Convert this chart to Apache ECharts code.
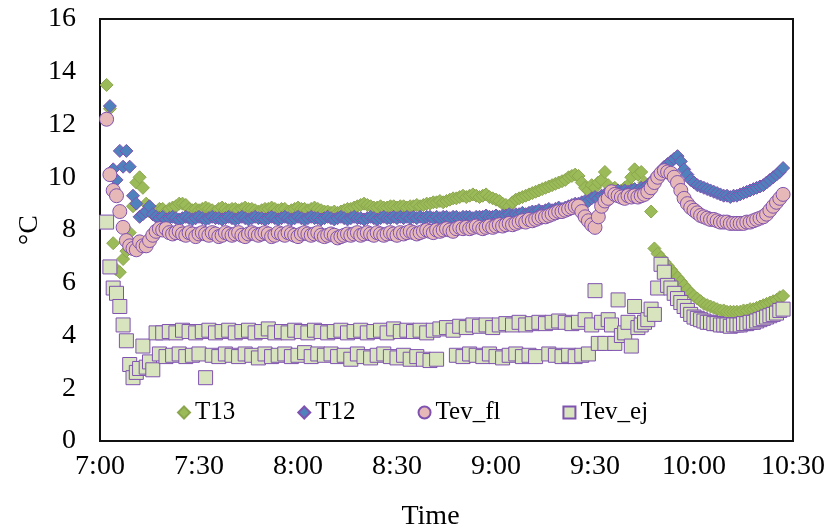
<!DOCTYPE html>
<html>
<head>
<meta charset="utf-8">
<script src="https://cdn.jsdelivr.net/npm/echarts@6/dist/echarts.min.js"></script>
<style>
html,body{margin:0;padding:0;background:#fff;}
#chart{width:833px;height:529px;}
</style>
</head>
<body>
<div id="chart"></div>
<script>
// Sample times: one reading per minute, first reading at 7:02 (minutes after 7:00)
const firstMinute = 2;
const tickLabels = ['7:00','7:30','8:00','8:30','9:00','9:30','10:00','10:30'];
const seriesNames = ['T13','T12','Tev_fl','Tev_ej'];

const T13 = [
13.5,12.6,7.5,6.5,6.4,6.9,7.2,7.9,8.9,9.8,
10.0,9.6,9.0,8.7,8.6,8.7,8.8,8.8,8.7,8.8,
8.85,8.9,9.0,9.0,8.95,8.8,8.75,8.8,8.75,8.8,
8.85,8.8,8.75,8.7,8.8,8.85,8.8,8.75,8.8,8.8,
8.75,8.8,8.85,8.8,8.8,8.75,8.7,8.75,8.8,8.8,
8.85,8.8,8.75,8.8,8.8,8.7,8.75,8.8,8.85,8.8,
8.8,8.75,8.8,8.85,8.8,8.75,8.7,8.7,8.65,8.7,
8.65,8.7,8.75,8.8,8.8,8.85,8.9,8.95,9.0,8.95,
8.9,8.85,8.85,8.9,8.85,8.85,8.9,8.9,8.85,8.9,
8.9,8.85,8.9,8.9,8.95,8.9,8.95,9.0,9.0,9.05,
9.05,9.1,9.05,9.1,9.15,9.2,9.2,9.25,9.3,9.25,
9.3,9.35,9.3,9.25,9.3,9.35,9.25,9.2,9.15,9.1,
9.0,8.95,8.9,9.05,9.15,9.2,9.25,9.3,9.35,9.4,
9.45,9.5,9.55,9.6,9.65,9.7,9.75,9.8,9.85,9.9,
10.0,10.05,10.1,10.05,9.8,9.6,9.5,9.7,9.6,9.8,
9.9,10.2,9.7,9.5,9.6,9.4,9.5,9.6,9.7,10.0,
10.3,10.1,10.2,9.8,9.4,8.7,7.3,7.1,6.95,6.8,
6.65,6.5,6.35,6.2,6.05,5.9,5.75,5.6,5.5,5.4,
5.3,5.2,5.15,5.1,5.05,5.0,4.95,4.95,4.9,4.9,
4.9,4.9,4.9,4.95,4.95,5.0,5.0,5.05,5.1,5.15,
5.2,5.25,5.3,5.35,5.45,5.5
];

const T12 = [
null,12.7,10.3,9.9,11.0,10.4,11.0,10.4,9.3,9.0,
8.5,8.6,8.7,8.9,8.6,8.5,8.45,8.5,8.4,8.45,
8.5,8.45,8.4,8.45,8.5,8.45,8.4,8.45,8.5,8.45,
8.4,8.45,8.5,8.45,8.45,8.4,8.45,8.5,8.45,8.4,
8.45,8.5,8.45,8.4,8.45,8.5,8.45,8.45,8.4,8.45,
8.5,8.45,8.4,8.45,8.5,8.45,8.4,8.45,8.5,8.45,
8.4,8.45,8.5,8.45,8.45,8.4,8.45,8.5,8.45,8.4,
8.45,8.5,8.45,8.4,8.45,8.5,8.45,8.45,8.4,8.45,
8.5,8.45,8.4,8.45,8.5,8.45,8.45,8.5,8.45,8.5,
8.45,8.5,8.45,8.5,8.45,8.5,8.45,8.5,8.5,8.45,
8.5,8.45,8.5,8.5,8.45,8.5,8.5,8.45,8.5,8.5,
8.5,8.45,8.5,8.5,8.5,8.55,8.5,8.5,8.55,8.5,
8.55,8.55,8.6,8.55,8.6,8.6,8.65,8.6,8.65,8.7,
8.7,8.75,8.7,8.75,8.8,8.75,8.8,8.85,8.8,8.85,
8.9,8.95,9.0,9.0,9.05,9.1,9.1,9.2,9.25,9.2,
9.3,9.35,9.4,9.4,9.45,9.5,9.45,9.5,9.45,9.5,
9.55,9.5,9.6,9.6,9.7,9.8,9.95,10.1,10.25,10.4,
10.5,10.6,10.7,10.8,10.6,10.3,10.1,9.9,9.8,9.7,
9.65,9.6,9.55,9.5,9.45,9.4,9.35,9.3,9.3,9.25,
9.3,9.3,9.35,9.4,9.45,9.5,9.55,9.6,9.65,9.7,
9.8,9.9,10.0,10.1,10.2,10.35
];

const Tev_fl = [
12.2,10.1,9.5,9.3,8.7,8.1,7.6,7.4,7.3,7.25,
7.55,7.4,7.4,7.6,7.8,7.95,8.05,8.0,8.05,7.9,
7.85,7.9,7.95,7.85,7.8,7.9,7.85,7.75,7.85,7.9,
7.85,7.8,7.9,7.85,7.75,7.8,7.9,7.85,7.8,7.85,
7.9,7.8,7.75,7.85,7.9,7.85,7.8,7.85,7.9,7.85,
7.75,7.8,7.9,7.85,7.8,7.9,7.85,7.8,7.75,7.85,
7.9,7.85,7.8,7.85,7.9,7.8,7.75,7.8,7.85,7.8,
7.7,7.75,7.8,7.85,7.8,7.85,7.9,7.8,7.85,7.9,
7.85,7.8,7.9,7.85,7.8,7.85,7.9,7.85,7.8,7.9,
7.85,7.9,7.95,7.9,7.85,7.9,7.95,8.0,7.95,7.9,
8.0,7.95,8.0,8.05,8.0,7.95,8.05,8.1,8.05,8.1,
8.05,8.1,8.15,8.1,8.05,8.1,8.15,8.1,8.15,8.2,
8.15,8.2,8.25,8.2,8.25,8.3,8.35,8.3,8.4,8.35,
8.4,8.45,8.5,8.5,8.55,8.6,8.65,8.7,8.7,8.75,
8.8,8.85,8.9,8.9,8.7,8.5,8.35,8.2,8.1,8.5,
8.9,9.1,9.2,9.45,9.35,9.3,9.25,9.2,9.3,9.25,
9.3,9.25,9.3,9.35,9.45,9.6,9.8,10.0,10.15,10.25,
10.2,10.15,10.0,9.8,9.5,9.2,9.0,8.85,8.75,8.65,
8.55,8.5,8.45,8.4,8.4,8.35,8.3,8.3,8.3,8.25,
8.25,8.25,8.25,8.25,8.3,8.3,8.35,8.4,8.45,8.5,
8.6,8.75,8.9,9.05,9.2,9.35
];

const Tev_ej = [
8.3,6.6,5.8,5.6,5.1,4.4,3.8,2.9,2.4,2.6,
2.75,3.6,2.8,3.0,2.7,4.1,3.3,4.1,3.2,4.15,
3.25,4.1,3.3,4.2,3.2,4.15,3.25,4.1,3.3,4.15,
2.4,4.2,3.25,4.1,3.2,4.15,3.3,4.2,3.25,4.1,
3.2,4.15,3.3,4.2,3.25,4.1,3.15,4.15,3.3,4.25,
3.2,4.1,3.25,4.15,3.3,4.1,3.2,4.2,3.25,4.15,
3.35,4.1,3.2,4.2,3.3,4.15,3.25,4.1,3.3,4.15,
3.2,4.2,3.25,4.1,3.1,4.15,3.3,4.2,3.2,4.1,
3.15,4.15,3.25,4.2,3.3,4.1,3.2,4.25,3.15,4.15,
3.25,4.2,3.1,4.15,3.2,4.2,3.1,4.1,3.05,4.2,
3.1,4.25,null,4.3,null,4.2,3.25,4.35,3.2,4.3,
3.3,4.4,3.25,4.35,3.2,4.4,3.3,4.3,3.2,4.4,
3.15,4.45,3.25,4.4,3.3,4.5,3.2,4.4,3.25,4.45,
3.2,4.5,null,4.45,3.3,4.5,3.25,4.55,3.2,4.5,
3.25,4.45,3.2,4.5,3.25,4.6,3.3,4.4,5.7,3.7,
4.5,3.7,4.6,4.4,3.7,5.35,4.0,4.1,4.5,3.6,
5.1,4.3,4.4,4.5,4.6,5.0,4.8,5.8,6.7,6.4,
5.9,5.8,5.6,5.4,5.25,5.1,4.95,4.8,4.7,4.65,
4.6,4.55,4.5,4.5,4.45,4.45,4.4,4.4,4.4,4.35,
4.4,4.4,4.4,4.45,4.45,4.5,4.5,4.55,4.6,4.65,
4.7,4.75,4.8,4.85,4.95,5.0
];

function pairs(values){
  const out = [];
  values.forEach((v, i) => { if (v !== null) out.push([firstMinute + i, v]); });
  return out;
}

const serif = 'Liberation Serif';
const edge = '#7F52B0';
const styles = [
  {symbol:'diamond', size:13, fill:'#9BBB59', border:'#8CA64E'},
  {symbol:'diamond', size:13, fill:'#4F81BD', border:edge},
  {symbol:'circle',  size:14, fill:'#E6B9B8', border:edge},
  {symbol:'rect',    size:14, fill:'#D7E4BD', border:edge}
];
const allValues = [T13, T12, Tev_fl, Tev_ej];

const chart = echarts.init(document.getElementById('chart'), null, {renderer:'canvas'});
chart.setOption({
  animation:false,
  backgroundColor:'#fff',
  grid:{left:100, right:40, top:19, bottom:88, show:true, borderColor:'#111', borderWidth:2,
        backgroundColor:'transparent', containLabel:false, outerBoundsMode:'none'},
  legend:{
    left:172, top:395, itemGap:62, itemWidth:12, itemHeight:12,
    textStyle:{fontFamily:serif, fontSize:25, color:'#000'},
    data:seriesNames.map((n,i)=>({name:n, icon:styles[i].symbol}))
  },
  xAxis:{
    type:'value', min:0, max:210, interval:30,
    axisLine:{show:false}, axisTick:{show:false}, splitLine:{show:false},
    axisLabel:{fontFamily:serif, fontSize:28, color:'#000', margin:12,
      formatter:(v)=>tickLabels[Math.round(v/30)]},
    name:'Time', nameLocation:'middle', nameGap:62, nameMoveOverlap:false,
    nameTextStyle:{fontFamily:serif, fontSize:28, color:'#000', padding:[0,32,0,0]}
  },
  yAxis:{
    type:'value', min:0, max:16, interval:2,
    axisLine:{show:false}, axisTick:{show:false}, splitLine:{show:false},
    axisLabel:{fontFamily:serif, fontSize:28, color:'#000', margin:24},
    name:'°C', nameLocation:'middle', nameGap:56, nameRotate:90, nameMoveOverlap:false,
    nameTextStyle:{fontFamily:serif, fontSize:28, color:'#000'}
  },
  series: seriesNames.map((n,i)=>({
    name:n, type:'scatter', symbol:styles[i].symbol, symbolSize:styles[i].size,
    data:pairs(allValues[i]),
    itemStyle:{color:styles[i].fill, borderColor:styles[i].border, borderWidth:1, opacity:1},
    emphasis:{disabled:true}
  }))
});
</script>
</body>
</html>
